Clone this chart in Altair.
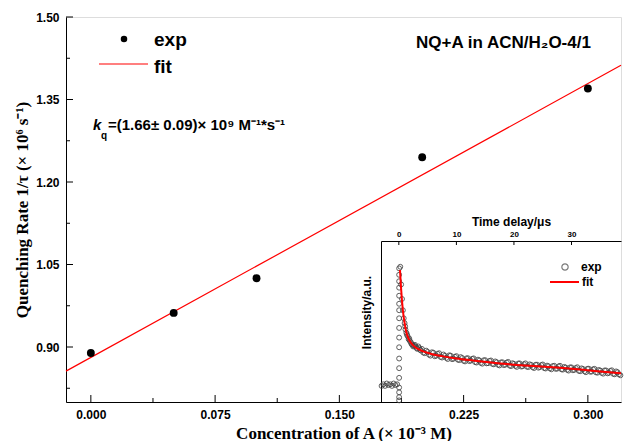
import altair as alt
import pandas as pd

# ---------------- main data ----------------
conc = [0.0, 0.05, 0.10, 0.20, 0.30]
rate = [0.889, 0.962, 1.025, 1.245, 1.370]
fit_intercept = 0.881
fit_slope = 1.66
fit_x = [-0.015, 0.32]
fit_y = [fit_intercept + fit_slope * v for v in fit_x]

x_major = [0.0, 0.075, 0.15, 0.225, 0.30]
x_minor = [0.0375, 0.1125, 0.1875, 0.2625]
y_major = [0.90, 1.05, 1.20, 1.35, 1.50]
y_minor = [0.825, 0.975, 1.125, 1.275, 1.425]

# ---------------- inset data ----------------
inset_t = [
    -3.0, -2.7, -2.4, -2.1, -1.8, -1.5, -1.2, -0.9, -0.6, -0.3,
    0.05, 0.05, 0.05, 0.05, 0.05, 0.05, 0.05, 0.05, 0.05, 0.05, 0.05, 0.05, 0.05, 0.05, 0.05, 0.05, 0.05, 0.05,
    0.25, 0.4, 0.55, 0.7, 0.85, 1.0, 1.15, 1.3, 1.5, 1.7, 1.9, 2.1, 2.35, 2.6, 2.9, 3.2, 3.5, 3.8,
    1.1, 1.4, 1.8, 2.2, 2.5, 2.8, 3.1, 3.4, 3.7,
    4.0, 4.5, 5.0, 5.5, 6.0, 6.5, 7.0, 7.5, 8.0, 8.5, 9.0, 9.5, 10.0, 10.5, 11.0, 11.5, 12.0, 12.5,
    13.0, 13.5, 14.0, 14.5, 15.0, 15.5, 16.0, 16.5, 17.0, 17.5, 18.0, 18.5, 19.0, 19.5, 20.0, 20.5,
    21.0, 21.5, 22.0, 22.5, 23.0, 23.5, 24.0, 24.5, 25.0, 25.5, 26.0, 26.5, 27.0, 27.5, 28.0, 28.5,
    29.0, 29.5, 30.0, 30.5, 31.0, 31.5, 32.0, 32.5, 33.0, 33.5, 34.0, 34.5, 35.0, 35.5, 36.0, 36.5,
    37.0, 37.5, 38.0, 38.5,
    4.25, 4.75, 5.25, 5.75, 6.25, 6.75, 7.25, 7.75, 8.25, 8.75, 9.25, 9.75, 10.25, 10.75, 11.25, 11.75,
    12.25, 12.75, 13.25, 13.75, 14.25, 14.75, 15.25, 15.75, 16.25, 16.75, 17.25, 17.75, 18.25, 18.75,
    19.25, 19.75, 20.25, 20.75, 21.25, 21.75, 22.25, 22.75, 23.25, 23.75, 24.25, 24.75, 25.25, 25.75,
    26.25, 26.75, 27.25, 27.75, 28.25, 28.75, 29.25, 29.75, 30.25, 30.75, 31.25, 31.75, 32.25, 32.75,
    33.25, 33.75, 34.25, 34.75, 35.25, 35.75, 36.25, 36.75, 37.25, 37.75, 38.25,
]
inset_v = [
    0.100, 0.110, 0.100, 0.115, 0.105, 0.110, 0.100, 0.115, 0.105, 0.110,
    0.01, 0.03, 0.06, 0.09, 0.15, 0.21, 0.27, 0.34, 0.40, 0.46, 0.52, 0.57, 0.61, 0.66, 0.71, 0.75, 0.79, 0.83,
    0.84, 0.73, 0.64, 0.57, 0.52, 0.49, 0.45, 0.43, 0.41, 0.39, 0.38, 0.37, 0.355, 0.35, 0.345, 0.33, 0.335, 0.32,
    0.47, 0.42, 0.395, 0.36, 0.345, 0.355, 0.335, 0.345, 0.325,
    0.330, 0.303, 0.311, 0.288, 0.306, 0.288, 0.303, 0.276, 0.287, 0.267, 0.288, 0.269, 0.285, 0.260, 0.273, 0.252, 0.272, 0.257,
    0.271, 0.245, 0.258, 0.238, 0.260, 0.241, 0.258, 0.234, 0.247, 0.227, 0.247, 0.232, 0.249, 0.223, 0.237, 0.218,
    0.240, 0.222, 0.240, 0.217, 0.230, 0.211, 0.232, 0.217, 0.233, 0.208, 0.222, 0.203, 0.225, 0.207, 0.225, 0.201,
    0.214, 0.195, 0.215, 0.200, 0.216, 0.191, 0.205, 0.185, 0.207, 0.189, 0.206, 0.182, 0.195, 0.176, 0.196, 0.181,
    0.197, 0.172, 0.185, 0.166,
    0.307, 0.319, 0.294, 0.309, 0.284, 0.299, 0.280, 0.295, 0.274, 0.290, 0.266, 0.281, 0.263, 0.279, 0.256, 0.271,
    0.254, 0.268, 0.248, 0.263, 0.243, 0.259, 0.240, 0.255, 0.237, 0.252, 0.231, 0.246, 0.229, 0.245,
    0.226, 0.241, 0.224, 0.239, 0.220, 0.235, 0.219, 0.234, 0.216, 0.231, 0.213, 0.229, 0.211, 0.226,
    0.209, 0.223, 0.206, 0.221, 0.203, 0.218, 0.200, 0.215, 0.197, 0.211, 0.194, 0.209, 0.191, 0.206,
    0.188, 0.203, 0.184, 0.199, 0.181, 0.196, 0.178, 0.193, 0.175, 0.190, 0.172,
]
inset_fit_t = [0.2, 0.4, 0.7, 1.0, 1.4, 1.8, 2.4, 3.0, 4.0, 5.5, 7.5, 10, 13, 16, 20, 24, 28, 32, 36, 38.6]
inset_fit_v = [0.82, 0.70, 0.57, 0.49, 0.42, 0.385, 0.355, 0.337, 0.318, 0.30, 0.285, 0.27, 0.257,
               0.245, 0.232, 0.222, 0.212, 0.200, 0.186, 0.178]
inset_t_ticks = [0, 10, 20, 30]

W, H = 555, 385
SANS = "Liberation Sans"
SERIF = "Liberation Serif"

xs = alt.Scale(domain=[-0.015, 0.32], nice=False, zero=False)
ys = alt.Scale(domain=[0.80, 1.50], nice=False, zero=False)

x_axis = alt.Axis(values=x_major, format=".3f", title="Concentration of A (× 10⁻³ M)",
                  tickSize=0, labelPadding=7, titlePadding=5,
                  labelFont=SANS, labelFontSize=12, labelFontWeight="bold", labelColor="black",
                  titleFont=SERIF, titleFontSize=17, titleFontWeight="bold", titleColor="black",
                  domainColor="black", grid=False)
y_axis = alt.Axis(values=y_major, format=".2f", title="Quenching Rate 1/τ (× 10⁶ s⁻¹)",
                  tickSize=0, labelPadding=7, titlePadding=4,
                  labelFont=SANS, labelFontSize=12, labelFontWeight="bold", labelColor="black",
                  titleFont=SERIF, titleFontSize=17, titleFontWeight="bold", titleColor="black",
                  domainColor="black", grid=False)

df_main = pd.DataFrame({"x": conc, "y": rate})
df_fit = pd.DataFrame({"x": fit_x, "y": fit_y})

pts = alt.Chart(df_main).mark_point(filled=True, color="black", size=62, opacity=1).encode(
    x=alt.X("x:Q", scale=xs, axis=x_axis), y=alt.Y("y:Q", scale=ys, axis=y_axis))
fit = alt.Chart(df_fit).mark_line(color="#ff0000", strokeWidth=1.2).encode(
    x=alt.X("x:Q", scale=xs, axis=x_axis), y=alt.Y("y:Q", scale=ys, axis=y_axis))

def yticks(vals, length):
    return alt.Chart(pd.DataFrame({"y": vals})).mark_rule(color="black", strokeWidth=1).encode(
        y=alt.Y("y:Q", scale=ys, axis=y_axis), x=alt.value(0), x2=alt.value(length))

def xticks(vals, length):
    return alt.Chart(pd.DataFrame({"x": vals})).mark_rule(color="black", strokeWidth=1).encode(
        x=alt.X("x:Q", scale=xs, axis=x_axis), y=alt.value(H), y2=alt.value(H - length))

def txt(s, x, y, size, weight="bold", style="normal", font=SANS, baseline="middle", color="black"):
    return alt.Chart(pd.DataFrame({"t": [s]})).mark_text(
        align="left", baseline=baseline, font=font, fontSize=size, fontWeight=weight,
        fontStyle=style, color=color).encode(x=alt.value(x), y=alt.value(y), text="t:N")

one = pd.DataFrame({"a": [0]})
leg_dot = alt.Chart(one).mark_point(filled=True, color="black", size=42, opacity=1).encode(
    x=alt.value(58), y=alt.value(22))
leg_line = alt.Chart(one).mark_rule(color="#ff0000", strokeWidth=1.2).encode(
    x=alt.value(33), x2=alt.value(82), y=alt.value(47))
ins_leg_dot = alt.Chart(one).mark_point(filled=False, color="#444444", size=40, strokeWidth=1.2).encode(
    x=alt.value(499), y=alt.value(250))
ins_leg_line = alt.Chart(one).mark_rule(color="#ff0000", strokeWidth=2).encode(
    x=alt.value(484), x2=alt.value(513), y=alt.value(265))

main = alt.layer(
    yticks(y_major, 7), yticks(y_minor, 4), xticks(x_major, 7), xticks(x_minor, 4),
    fit, pts,
    leg_dot, leg_line,
    txt("exp", 88, 23, 19), txt("fit", 88, 50, 19),
    txt("NQ+A in ACN/H₂O-4/1", 350, 26, 17),
    txt("k", 27, 113, 15, style="italic", baseline="alphabetic"),
    txt("q", 35, 122, 10, baseline="alphabetic"),
    txt("=(1.66± 0.09)× 10⁹ M⁻¹*s⁻¹", 42, 113, 15, baseline="alphabetic"),
    ins_leg_dot, ins_leg_line,
    txt("exp", 515, 250, 12), txt("fit", 516, 265, 12),
)

# ---------------- inset ----------------
ixs = alt.Scale(domain=[-3.1, 38.6], range=[315, W], nice=False, zero=False)
iys = alt.Scale(domain=[0, 1], range=[H, 224], nice=False, zero=False)
ix_axis = alt.Axis(orient="top", offset=-224, values=inset_t_ticks, format="d", title="Time delay/μs",
                   tickSize=0, labelPadding=3, titlePadding=2, titleX=445,
                   labelFont=SANS, labelFontSize=8, labelFontWeight="bold", labelColor="black",
                   titleFont=SANS, titleFontSize=12, titleFontWeight="bold", titleColor="black",
                   domainColor="black", grid=False)
iy_axis = alt.Axis(orient="left", offset=-315, labels=False, ticks=False, title="Intensity/a.u.",
                   titlePadding=8, titleY=295,
                   titleFont=SANS, titleFontSize=12, titleFontWeight="bold", titleColor="black",
                   domainColor="black", grid=False)

df_ins = pd.DataFrame({"t": inset_t, "v": inset_v})
df_ins_fit = pd.DataFrame({"t": inset_fit_t, "v": inset_fit_v})

ins_pts = alt.Chart(df_ins).mark_point(filled=False, color="#444444", size=24, strokeWidth=1, opacity=0.85).encode(
    x=alt.X("t:Q", scale=ixs, axis=ix_axis), y=alt.Y("v:Q", scale=iys, axis=iy_axis))
ins_fit = alt.Chart(df_ins_fit).mark_line(color="#ff0000", strokeWidth=2, interpolate="monotone").encode(
    x=alt.X("t:Q", scale=ixs, axis=ix_axis), y=alt.Y("v:Q", scale=iys, axis=iy_axis))
ins_ticks = alt.Chart(pd.DataFrame({"t": inset_t_ticks})).mark_rule(color="black").encode(
    x=alt.X("t:Q", scale=ixs, axis=ix_axis), y=alt.value(224), y2=alt.value(228))

inset = alt.layer(ins_ticks, ins_pts, ins_fit)

chart = alt.layer(main, inset).resolve_scale(x="independent", y="independent").properties(
    width=W, height=H, padding={"left": 5, "top": 3, "right": 0, "bottom": 0}
).configure_view(stroke="black", strokeWidth=1).configure(background="white")

chart.save("out.html", embed_options={"renderer": "svg", "actions": False})
